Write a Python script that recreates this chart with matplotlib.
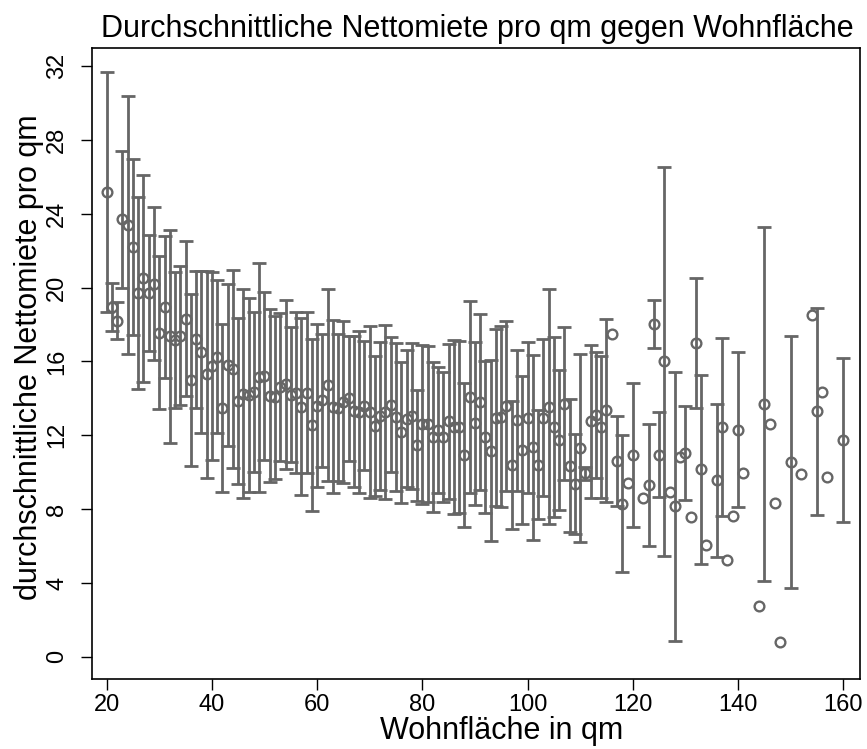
import numpy as np
import matplotlib
matplotlib.use("Agg")
import matplotlib.pyplot as plt

# Wohnfläche (qm), mittlere Nettomiete pro qm, Standardabweichung (nan = nur eine Beobachtung)
flaeche = [20, 21, 22, 23, 24, 25, 26, 27, 28, 29,
           30, 31, 32, 33, 34, 35, 36, 37, 38, 39,
           40, 41, 42, 43, 44, 45, 46, 47, 48, 49,
           50, 51, 52, 53, 54, 55, 56, 57, 58, 59,
           60, 61, 62, 63, 64, 65, 66, 67, 68, 69,
           70, 71, 72, 73, 74, 75, 76, 77, 78, 79,
           80, 81, 82, 83, 84, 85, 86, 87, 88, 89,
           90, 91, 92, 93, 94, 95, 96, 97, 98, 99,
           100, 101, 102, 103, 104, 105, 106, 107, 108, 109,
           110, 111, 112, 113, 114, 115, 116, 117, 118, 119,
           120, 122, 123, 124, 125, 126, 127, 128, 129, 130,
           131, 132, 133, 134, 136, 137, 138, 139, 140, 141,
           144, 145, 146, 147, 148, 150, 152, 154, 155, 156,
           157, 160]
miete = [25.2, 18.95, 18.2, 23.7, 23.4, 22.2, 19.7, 20.5, 19.7, 20.2,
         17.55, 18.95, 17.35, 17.15, 17.4, 18.3, 15.0, 17.2, 16.5, 15.3,
         15.75, 16.25, 13.5, 15.8, 15.6, 13.85, 14.25, 14.2, 14.35, 15.15,
         15.2, 14.15, 14.05, 14.6, 14.75, 14.2, 14.3, 13.55, 14.3, 12.55,
         13.6, 13.9, 14.7, 13.55, 13.5, 13.8, 14.0, 13.3, 13.25, 13.6,
         13.25, 12.5, 13.05, 13.25, 13.65, 13.0, 12.15, 12.9, 13.05, 11.45,
         12.6, 12.6, 11.9, 12.3, 11.9, 12.75, 12.45, 12.45, 10.95, 14.05,
         12.65, 13.8, 11.9, 11.15, 12.95, 13.0, 13.6, 10.4, 12.8, 11.2,
         12.95, 11.35, 10.4, 12.95, 13.55, 12.45, 11.75, 13.7, 10.35, 9.35,
         11.3, 9.95, 12.75, 13.1, 12.45, 13.35, 17.5, 10.6, 8.3, 9.4,
         10.95, 8.6, 9.3, 18.0, 10.95, 16.0, 8.95, 8.15, 10.8, 11.05,
         7.55, 17.0, 10.15, 6.05, 9.55, 12.45, 5.25, 7.65, 12.3, 9.95,
         2.75, 13.7, 12.6, 8.35, 0.8, 10.55, 9.9, 18.5, 13.3, 14.35,
         9.75, 11.75]
nan = np.nan
sd = [6.5, 1.3, 1.0, 3.7, 7.0, 4.75, 5.2, 5.6, 3.15, 4.15,
      4.15, 3.85, 5.75, 3.7, 3.75, 4.2, 4.65, 3.7, 4.4, 5.6,
      5.1, 4.15, 4.55, 4.4, 5.37, 4.5, 5.65, 5.25, 4.35, 6.2,
      4.55, 4.7, 4.4, 4.0, 4.6, 3.65, 4.35, 4.8, 4.35, 4.65,
      4.4, 3.6, 5.2, 4.7, 4.0, 4.4, 3.4, 4.1, 4.4, 3.5,
      4.65, 3.8, 4.0, 4.7, 3.65, 4.0, 3.8, 3.7, 3.95, 3.0,
      4.3, 4.24, 4.05, 3.4, 3.5, 4.2, 4.7, 4.65, 3.9, 5.2,
      4.4, 4.75, 4.1, 4.9, 4.8, 4.9, 4.6, 3.45, 3.8, 4.0,
      4.1, 5.0, 2.95, 4.25, 6.35, 4.85, 3.8, 4.15, 3.6, 2.7,
      5.1, 0.35, 4.15, 3.4, 3.85, 4.95, nan, 2.45, 3.7, nan,
      3.9, nan, 3.3, 1.3, 2.3, 10.55, nan, 7.3, nan, 2.55,
      nan, 3.5, 5.1, nan, 4.15, 4.8, nan, nan, 4.2, nan,
      nan, 9.6, nan, nan, nan, 6.8, nan, nan, 5.6, nan,
      nan, 4.45]

x_ticks = [20, 40, 60, 80, 100, 120, 140, 160]
y_ticks = [0, 4, 8, 12, 16, 20, 24, 28, 32]

plt.rcParams['font.family'] = ['Liberation Sans', 'DejaVu Sans']

grau = "#666666"
x = np.array(flaeche, dtype=float)
m = np.array(miete)
s = np.array(sd)
hat_sd = ~np.isnan(s)

fig = plt.figure(figsize=(8.67, 7.49), dpi=100)
ax = fig.add_axes([0.106, 0.0935, 0.886, 0.843])

ax.errorbar(x[hat_sd], m[hat_sd], yerr=s[hat_sd], fmt="none", ecolor=grau,
            elinewidth=2.0, capsize=4.8, capthick=2.0, zorder=2)
ax.plot(x, m, "o", markersize=7, markerfacecolor="none", markeredgecolor=grau,
        markeredgewidth=1.7, zorder=3)

ax.set_xlim(17.2, 163.2)
ax.set_ylim(-1.2, 33.0)
ax.set_xticks(x_ticks)
ax.set_yticks(y_ticks)
ax.tick_params(direction="out", length=8, width=1.0, labelsize=17, colors="black")
ax.tick_params(axis="x", pad=3)
ax.tick_params(axis="y", pad=9)
for lbl in ax.get_yticklabels():
    lbl.set_rotation(90)
    lbl.set_va("center")
for sp in ax.spines.values():
    sp.set_linewidth(1.2)

fig.text(0.551, 0.961, "Durchschnittliche Nettomiete pro qm gegen Wohnfläche",
         fontsize=22, ha="center", va="center")
fig.text(0.578, 0.024, "Wohnfläche in qm", fontsize=22, ha="center", va="center")
fig.text(0.034, 0.523, "durchschnittliche Nettomiete pro qm", fontsize=22,
         ha="center", va="center", rotation=90)

fig.savefig("out.png", dpi=100)
plt.close(fig)
